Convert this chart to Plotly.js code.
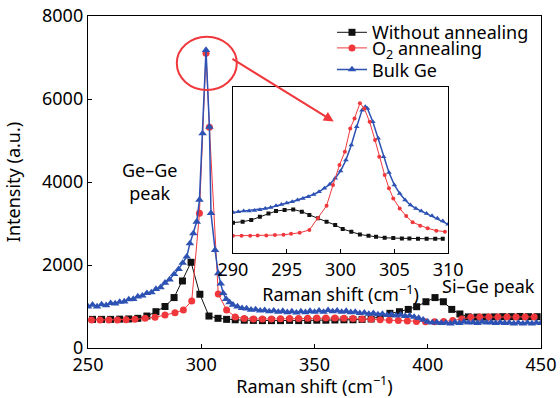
<!DOCTYPE html>
<html>
<head>
<meta charset="utf-8">
<script src="https://cdn.plot.ly/plotly-3.0.1.min.js"></script>
<style>html,body{margin:0;padding:0;background:#fff;}#chart{width:560px;height:398px;}</style>
</head>
<body>
<div id="chart"></div>
<script>
// ---- Main plot data (Raman shift cm^-1, intensity a.u.) ----
const seriesNames = ["Without annealing", "O<sub>2</sub> annealing", "Bulk Ge"];

const noAnnealX = [252, 256, 260, 264, 268, 272, 276, 280, 284, 288, 291.7, 295.5, 299.4, 303.4, 307.4, 311.2, 315, 319, 323, 327, 331, 335, 339, 343, 347, 351, 355, 359, 363, 367, 371, 375, 379, 383.3, 387.5, 391.4, 395.1, 399.2, 403.2, 406.9, 410.6, 414.2, 417.9, 421.7, 425.5, 429.3, 433.1, 436.9, 440.7, 444.5, 448.3];
const noAnnealY = [690, 690, 690, 695, 700, 715, 770, 875, 1000, 1215, 1615, 2065, 1295, 770, 715, 690, 680, 670, 665, 660, 660, 660, 665, 660, 665, 670, 670, 675, 680, 680, 690, 700, 760, 835, 875, 930, 995, 1115, 1215, 1115, 930, 820, 750, 745, 745, 750, 755, 755, 760, 755, 755];

const o2X = [251.5, 255.3, 259.2, 263.0, 266.8, 270.7, 275.2, 279.6, 284.0, 288.4, 292.1, 295.8, 299.2, 302.1, 303.6, 307.5, 311.2, 315, 319, 323, 327, 331, 335, 339, 343, 347, 351, 355, 359, 363, 367, 371, 375, 379, 383, 387, 391, 395, 399, 403, 407, 411, 415, 419, 423, 427, 431, 435, 439, 443, 447];
const o2Y = [675, 675, 675, 675, 680, 690, 715, 740, 795, 850, 915, 1135, 3245, 7100, 5320, 1300, 915, 750, 710, 700, 700, 700, 705, 710, 710, 715, 720, 720, 720, 715, 710, 700, 690, 680, 670, 660, 650, 640, 630, 630, 640, 660, 700, 740, 745, 745, 750, 750, 750, 750, 750];

const bulkX = [250, 252, 254, 256, 258, 260, 262, 264, 266, 268, 270, 272, 274, 276, 278, 280, 282, 284, 286, 288, 290, 291.8, 293.6, 295, 296.5, 298, 299.2, 300.6, 302.1, 303.6, 304.3, 306.1, 307.5, 308.6, 309.7, 311, 312.5, 314, 316, 318, 320, 322, 324, 326, 328, 330, 332, 334, 336, 338, 340, 342, 344, 346, 348, 350, 352, 354, 356, 358, 360, 362, 364, 366, 368, 370, 372, 374, 376, 378, 380, 382, 384, 386, 388, 390, 392, 394, 396, 398, 400, 402, 404, 406, 408, 410, 412, 414, 416, 418, 420, 422, 424, 426, 428, 430, 432, 434, 436, 438, 440, 442, 444, 446, 448, 450];
const bulkY = [1000, 1040, 1000, 1050, 1030, 1080, 1070, 1110, 1120, 1170, 1180, 1240, 1260, 1320, 1340, 1420, 1460, 1570, 1650, 1780, 1900, 2050, 2200, 2520, 2760, 3040, 3570, 5170, 7180, 5330, 3250, 2360, 1800, 1550, 1320, 1180, 1100, 1040, 1000, 960, 950, 920, 930, 900, 910, 880, 900, 870, 890, 860, 880, 850, 880, 860, 890, 870, 900, 870, 910, 880, 900, 870, 890, 860, 870, 840, 850, 820, 840, 810, 820, 790, 810, 780, 800, 770, 780, 750, 720, 680, 630, 610, 620, 600, 610, 590, 620, 600, 630, 610, 620, 600, 630, 610, 620, 600, 620, 600, 610, 590, 610, 590, 610, 590, 610, 600];

// ---- Inset data (290-310 cm^-1, relative intensity, no y scale shown) ----
const insNoAnnealX = [290.0, 290.9, 291.7, 292.5, 293.3, 294.0, 294.8, 295.6, 296.4, 297.1, 297.9, 298.7, 299.5, 300.2, 301.0, 301.8, 302.6, 303.3, 304.1, 304.9, 305.7, 306.4, 307.2, 308.0, 308.8, 309.5];
const insNoAnnealY = [18.1, 18.7, 19.7, 21.7, 23.7, 25.1, 25.7, 26.1, 24.7, 22.7, 20.7, 18.7, 16.7, 14.3, 12.7, 11.0, 10.2, 9.6, 9.0, 8.8, 8.6, 8.6, 8.4, 8.4, 8.4, 8.4];

const insO2X = [290.0, 290.8, 291.6, 292.3, 293.1, 293.9, 294.7, 295.4, 296.2, 297.1, 297.9, 298.7, 299.3, 299.9, 300.4, 300.9, 301.3, 301.8, 302.2, 302.7, 303.2, 303.6, 304.1, 304.5, 304.9, 305.5, 306.1, 306.7, 307.4, 308.1, 308.9, 309.7];
const insO2Y = [10.2, 10.2, 10.2, 10.4, 10.4, 10.6, 10.8, 11.4, 12.0, 13.7, 20.7, 28.3, 40.8, 52.8, 60.8, 74.9, 80.9, 90.0, 86.9, 78.9, 67.9, 57.8, 46.8, 38.8, 32.7, 26.7, 22.1, 18.3, 16.3, 14.7, 13.3, 12.7];

const insBulkX = [290, 290.5, 291, 291.5, 292, 292.5, 293, 293.5, 294, 294.5, 295, 295.5, 296, 296.5, 297, 297.5, 298, 298.5, 299, 299.5, 300, 300.5, 301, 301.5, 302, 302.3, 302.5, 303, 303.5, 304, 304.5, 305, 305.5, 306, 306.5, 307, 307.5, 308, 308.5, 309, 309.5, 310];
const insBulkY = [24.3, 24.7, 25.1, 25.1, 25.5, 25.9, 26.7, 27.3, 28.3, 29.1, 29.9, 30.7, 31.7, 32.7, 33.7, 35.1, 36.7, 38.8, 41.2, 44.8, 49.2, 55.8, 64.9, 75.9, 85.9, 88.0, 86.9, 78.9, 68.9, 57.8, 48.4, 40.8, 35.7, 31.7, 28.7, 26.7, 25.1, 23.7, 22.3, 20.7, 19.1, 17.1];

const mainTicksX = [250, 300, 350, 400, 450];
const mainTicksY = [0, 2000, 4000, 6000, 8000];
const insetTicksX = [290, 295, 300, 305, 310];

const cBlack = '#111111', cRed = '#f0383c', cBlue = '#2d52b4';
const FONT = 'Noto Sans, Open Sans, DejaVu Sans, sans-serif';
const FS = 18;

const traces = [
  {x: noAnnealX, y: noAnnealY, name: seriesNames[0], legend: 'legend', type: 'scatter', mode: 'lines+markers',
   line: {color: cBlack, width: 1}, marker: {symbol: 'square', size: 7, color: cBlack}},
  {x: o2X, y: o2Y, name: seriesNames[1], legend: 'legend2', type: 'scatter', mode: 'lines+markers',
   line: {color: cRed, width: 1}, marker: {symbol: 'circle', size: 7, color: cRed}},
  {x: bulkX, y: bulkY, name: seriesNames[2], legend: 'legend3', type: 'scatter', mode: 'lines+markers',
   line: {color: cBlue, width: 1.5}, marker: {symbol: 'triangle-up', size: 7.5, color: cBlue}},
  {x: insNoAnnealX, y: insNoAnnealY, xaxis: 'x2', yaxis: 'y2', showlegend: false, type: 'scatter', mode: 'lines+markers',
   line: {color: cBlack, width: 1}, marker: {symbol: 'square', size: 4, color: cBlack}},
  {x: insBulkX, y: insBulkY, xaxis: 'x2', yaxis: 'y2', showlegend: false, type: 'scatter', mode: 'lines+markers',
   line: {color: cBlue, width: 1.5}, marker: {symbol: 'triangle-up', size: 5, color: cBlue}},
  {x: insO2X, y: insO2Y, xaxis: 'x2', yaxis: 'y2', showlegend: false, type: 'scatter', mode: 'lines+markers',
   line: {color: cRed, width: 1}, marker: {symbol: 'circle', size: 4, color: cRed}}
];

const axCommon = {showline: true, mirror: true, linecolor: '#000', linewidth: 1.2, ticks: 'inside',
  ticklen: 4, tickcolor: '#000', showgrid: false, zeroline: false,
  tickfont: {family: FONT, size: FS, color: '#000'}};

function legendAt(yPaper) {
  return {x: 0.5386, y: yPaper, xanchor: 'left', yanchor: 'middle', bgcolor: 'rgba(0,0,0,0)',
    font: {family: FONT, size: FS, color: '#000'}, itemwidth: 30, tracegroupgap: 0};
}

const layout = {
  width: 560, height: 398,
  margin: {l: 88, r: 19, t: 16, b: 50, pad: 0},
  paper_bgcolor: '#fff', plot_bgcolor: '#fff',
  font: {family: FONT, size: FS, color: '#000'},
  xaxis: Object.assign({}, axCommon, {range: [250, 450], tickvals: mainTicksX,
    title: {text: 'Raman shift (cm<sup>−1</sup>)', font: {family: FONT, size: FS}, standoff: 4}}),
  yaxis: Object.assign({}, axCommon, {range: [0, 8000], tickvals: mainTicksY,
    title: {text: 'Intensity (a.u.)', font: {family: FONT, size: FS}, standoff: 16}}),
  xaxis2: Object.assign({}, axCommon, {anchor: 'y2', domain: [0.320, 0.795], range: [290, 310], tickvals: insetTicksX,
    title: {text: 'Raman shift (cm<sup>−1</sup>)', font: {family: FONT, size: FS}, standoff: 0}}),
  yaxis2: Object.assign({}, axCommon, {anchor: 'x2', domain: [0.287, 0.787], range: [0, 100],
    ticks: '', showticklabels: false}),
  legend: legendAt(0.950),
  legend2: legendAt(0.903),
  legend3: legendAt(0.838),
  shapes: [
    {type: 'circle', xref: 'x', yref: 'y', x0: 289.2, x1: 315.7, y0: 6217, y1: 7501,
     line: {color: cRed, width: 2}}
  ],
  annotations: [
    {xref: 'x', yref: 'y', x: 358.5, y: 5460, axref: 'x', ayref: 'y', ax: 313.1, ay: 6988,
     showarrow: true, arrowhead: 2, arrowsize: 1, arrowwidth: 2, arrowcolor: cRed, text: ''},
    {xref: 'x', yref: 'y', x: 277.4, y: 4024, text: 'Ge–Ge<br>peak', showarrow: false,
     font: {family: FONT, size: FS}},
    {xref: 'x', yref: 'y', x: 426.6, y: 1490, text: 'Si–Ge peak', showarrow: false,
     font: {family: FONT, size: FS}}
  ]
};

Plotly.newPlot('chart', traces, layout, {displayModeBar: false, staticPlot: true});
</script>
</body>
</html>
